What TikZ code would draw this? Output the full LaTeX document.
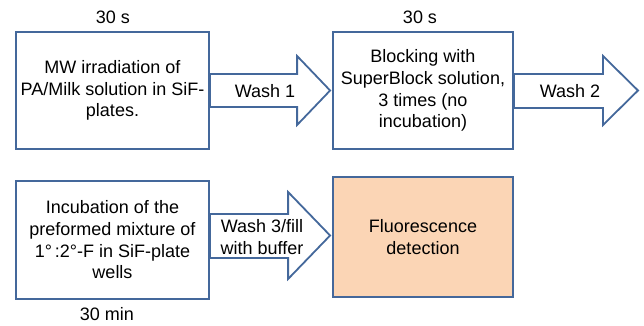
\documentclass[tikz,border=0pt]{standalone}
\usepackage{fontspec}
\setmainfont{Liberation Sans}
\usetikzlibrary{calc}
\definecolor{boxblue}{RGB}{68,104,155}
\definecolor{peach}{RGB}{251,213,181}

\begin{document}
\begin{tikzpicture}[x=1pt,y=-1pt,
  txt/.style={font=\fontsize{18}{21.7}\selectfont,align=center,inner sep=0pt},
  stepbox/.style={txt,draw=boxblue,line width=1.8pt},
  washarrow/.style={draw=boxblue,line width=1.8pt,fill=white,line join=miter}]
\useasboundingbox (0,0) rectangle (644,326);

% the four steps
\node[stepbox,minimum width=193pt,minimum height=117pt] (mw) at (112.5,90.5) {MW irradiation of\\PA/Milk solution in SiF-\\plates.};
\node[stepbox,minimum width=180pt,minimum height=117pt] (block) at (423,90.5) {Blocking with\\SuperBlock solution,\\3 times (no\\incubation)};
\node[stepbox,minimum width=193pt,minimum height=118pt] (incub) at (112.5,240) {Incubation of the\\preformed mixture of\\1°\,:2°-F in SiF-plate\\wells};
\node[stepbox,fill=peach,minimum width=180pt,minimum height=120pt] (detect) at (423,237) {Fluorescence\\detection};
\coordinate (out) at (638,90.5);

% wash arrows
\draw[washarrow] ($(mw.east)+(0,-16.5)$) -| ($(block.west)+(-35,-34.5)$) -- ($(block.west)+(-2,0)$)
  -- ($(block.west)+(-35,34.5)$) |- ($(mw.east)+(0,16.5)$) -- cycle;
\draw[washarrow] ($(block.east)+(0,-16.5)$) -| ($(out)+(-35,-34.5)$) -- (out)
  -- ($(out)+(-35,34.5)$) |- ($(block.east)+(0,17.5)$) -- cycle;
\draw[washarrow] ($(incub.east)+(0,-26)$) -| ($(detect.west)+(-44,-45)$) -- ($(detect.west)+(-2,-1.5)$)
  -- ($(detect.west)+(-44,42)$) |- ($(incub.east)+(0,18)$) -- cycle;

\node[txt] (w1) at (265,91) {Wash 1};
\node[txt] (w2) at (570,91) {Wash 2};
\node[txt] (w3) at (262,237) {Wash 3/fill\\with buffer};

% times
\node[txt] (t1) at (113,17) {30 s};
\node[txt] (t2) at (420,17) {30 s};
\node[txt] (t3) at (107,314) {30 min};
\end{tikzpicture}
\end{document}
